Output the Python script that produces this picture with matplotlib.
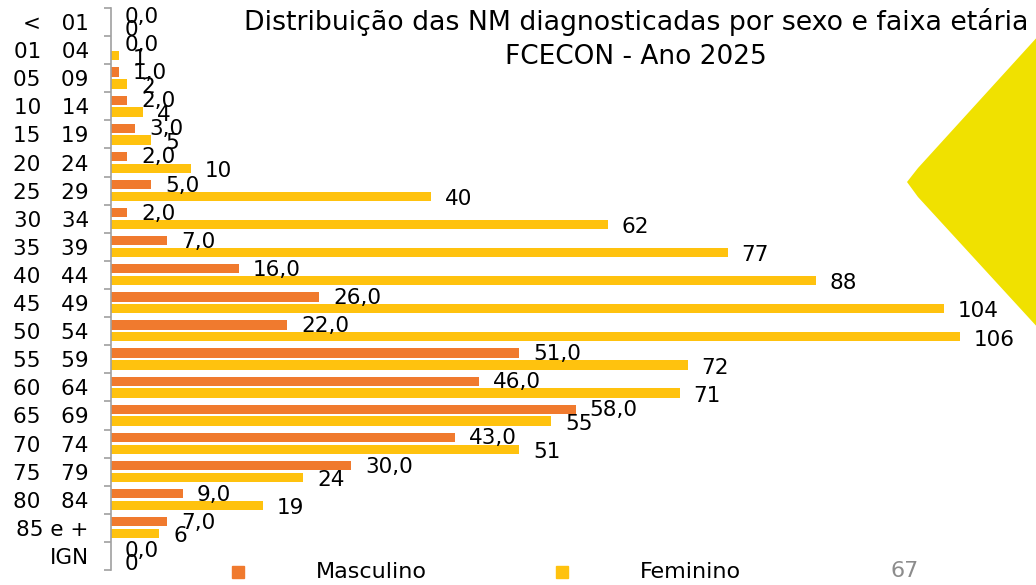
import matplotlib.pyplot as plt
from matplotlib.patches import Polygon

# Faixas etarias (de cima para baixo) e casos por sexo
faixas = ["<   01", "01   04", "05   09", "10   14", "15   19", "20   24",
          "25   29", "30   34", "35   39", "40   44", "45   49", "50   54",
          "55   59", "60   64", "65   69", "70   74", "75   79", "80   84",
          "85 e +", "IGN"]
masculino = [0, 0, 1, 2, 3, 2, 5, 2, 7, 16, 26, 22, 51, 46, 58, 43, 30, 9, 7, 0]
feminino = [0, 1, 2, 4, 5, 10, 40, 62, 77, 88, 104, 106, 72, 71, 55, 51, 24, 19, 6, 0]

cor_masc = "#F07A2E"
cor_fem = "#FFC20E"
fonte = "DejaVu Sans"

fig = plt.figure(figsize=(10.36, 5.85), dpi=100)
ax = fig.add_axes([111 / 1036, 1 - 570 / 585, 1 - 111 / 1036, (570 - 8) / 585])

# detalhe amarelo do slide, em pixels da figura
W, H = 1036, 585
pts = [(1040, 34), (918, 168), (907, 182), (918, 197), (1040, 330)]
forma = Polygon([(x / W, 1 - y / H) for x, y in pts], closed=True,
                transform=fig.transFigure, facecolor="#F0E100", edgecolor="none", zorder=0)
fig.patches.append(forma)

n = len(faixas)
pos = list(range(n))
ax.barh([p - 0.22 for p in pos], masculino, height=0.33, color=cor_masc, label="Masculino")
ax.barh([p + 0.2 for p in pos], feminino, height=0.33, color=cor_fem, label="Feminino")

px = 115.5 / (1036 - 111)  # unidades por pixel
for p, v in zip(pos, masculino):
    ax.text(v + 14 * px, p - 0.18, f"{v},0", va="center", ha="left", fontsize=15.5, family=fonte)
for p, v in zip(pos, feminino):
    ax.text(v + 14 * px, p + 0.3, f"{v}", va="center", ha="left", fontsize=15.5, family=fonte)

ax.set_xlim(0, 115.5)
ax.set_ylim(n - 0.5, -0.5)
ax.set_yticks(pos)
ax.set_yticklabels(faixas, fontsize=15.5, family=fonte)
ax.set_yticks([p - 0.5 for p in range(n + 1)], minor=True)
ax.tick_params(axis="y", which="major", length=0, pad=16)
ax.tick_params(axis="y", which="minor", length=5, color="#A0A0A0", width=1.2)
ax.set_xticks([])
for s in ["top", "right", "bottom"]:
    ax.spines[s].set_visible(False)
ax.spines["left"].set_color("#A0A0A0")
ax.spines["left"].set_linewidth(1.2)
ax.patch.set_alpha(0)

fig.text(636 / W, 1 - 22 / H, "Distribuição das NM diagnosticadas por sexo e faixa etária",
         ha="center", va="center", fontsize=19.3, family=fonte)
fig.text(636 / W, 1 - 57 / H, "FCECON - Ano 2025", ha="center", va="center", fontsize=19, family=fonte)

# legenda manual na base
fig.patches.append(plt.Rectangle((232 / W, 1 - 578 / H), 12 / W, 12 / H,
                                 transform=fig.transFigure, color=cor_masc))
fig.text(316 / W, 1 - 572 / H, "Masculino", va="center", ha="left", fontsize=16, family=fonte)
fig.patches.append(plt.Rectangle((556 / W, 1 - 578 / H), 12 / W, 12 / H,
                                 transform=fig.transFigure, color=cor_fem))
fig.text(640 / W, 1 - 572 / H, "Feminino", va="center", ha="left", fontsize=16, family=fonte)
fig.text(905 / W, 1 - 571 / H, "67", va="center", ha="center", fontsize=16, color="#8C8C8C", family=fonte)

fig.savefig("out.png", dpi=100)
